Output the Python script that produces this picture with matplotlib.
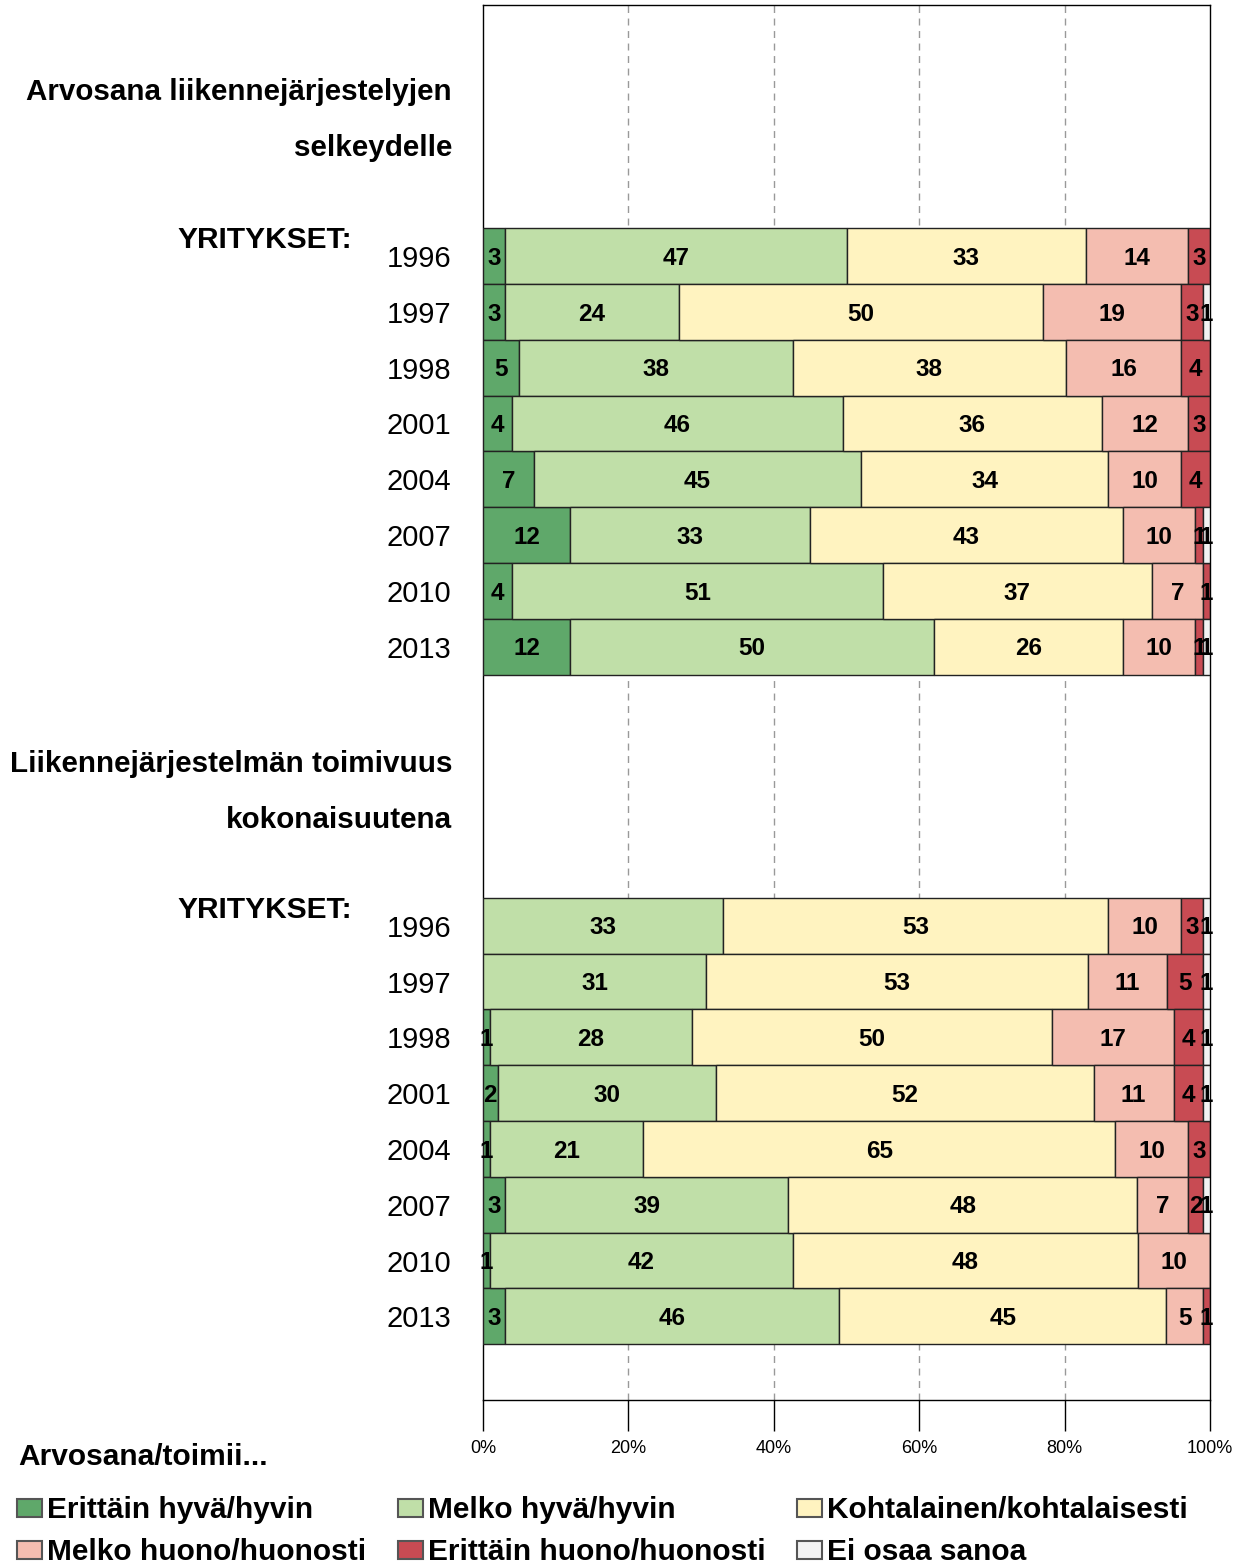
import matplotlib
matplotlib.use("Agg")
import matplotlib.pyplot as plt
from matplotlib.patches import Rectangle
import numpy as np

plt.rcParams['font.family'] = ['Liberation Sans', 'DejaVu Sans']

years = ["1996", "1997", "1998", "2001", "2004", "2007", "2010", "2013"]
series_names = ["Erittäin hyvä/hyvin", "Melko hyvä/hyvin", "Kohtalainen/kohtalaisesti",
                "Melko huono/huonosti", "Erittäin huono/huonosti", "Ei osaa sanoa"]
colors = ["#5fa86a", "#c0dfa8", "#fff3c0", "#f4bdb0", "#c84b53", "#f2f2f2"]

title_top = ["Arvosana liikennejärjestelyjen", "selkeydelle"]
title_bottom = ["Liikennejärjestelmän toimivuus", "kokonaisuutena"]
group_label = "YRITYKSET:"
legend_title = "Arvosana/toimii..."

# Top group: Arvosana liikennejärjestelyjen selkeydelle
top_erittain_hyva = [3, 3, 5, 4, 7, 12, 4, 12]
top_melko_hyva = [47, 24, 38, 46, 45, 33, 51, 50]
top_kohtalainen = [33, 50, 38, 36, 34, 43, 37, 26]
top_melko_huono = [14, 19, 16, 12, 10, 10, 7, 10]
top_erittain_huono = [3, 3, 4, 3, 4, 1, 1, 1]
top_ei_osaa = [0, 1, 0, 0, 0, 1, 0, 1]

# Bottom group: Liikennejärjestelmän toimivuus kokonaisuutena
bot_erittain_hyva = [0, 0, 1, 2, 1, 3, 1, 3]
bot_melko_hyva = [33, 31, 28, 30, 21, 39, 42, 46]
bot_kohtalainen = [53, 53, 50, 52, 65, 48, 48, 45]
bot_melko_huono = [10, 11, 17, 11, 10, 7, 10, 5]
bot_erittain_huono = [3, 5, 4, 4, 3, 2, 0, 1]
bot_ei_osaa = [1, 1, 1, 1, 0, 1, 0, 0]

xticks = [0, 20, 40, 60, 80, 100]
xticklabels = ["0%", "20%", "40%", "60%", "80%", "100%"]

W, H = 1246, 1566
fig = plt.figure(figsize=(W / 100, H / 100), dpi=100)
ax = fig.add_axes([483 / W, 1 - 1400 / H, (1210 - 483) / W, (1400 - 5) / H])

top_data = np.array([top_erittain_hyva, top_melko_hyva, top_kohtalainen,
                     top_melko_huono, top_erittain_huono, top_ei_osaa], dtype=float)
bot_data = np.array([bot_erittain_hyva, bot_melko_hyva, bot_kohtalainen,
                     bot_melko_huono, bot_erittain_huono, bot_ei_osaa], dtype=float)

n_rows = 25
top_rows = np.arange(4, 12)
bot_rows = np.arange(16, 24)

for data, rows in ((top_data, top_rows), (bot_data, bot_rows)):
    pct = data / data.sum(axis=0) * 100
    left = np.zeros(data.shape[1])
    for k in range(data.shape[0]):
        ax.barh(rows, pct[k], left=left, height=1.0, color=colors[k],
                edgecolor="#222222", linewidth=1.0, zorder=3)
        for r, l, w, v in zip(rows, left, pct[k], data[k]):
            if v > 0:
                ax.text(l + w / 2, r + 0.04, f"{int(v)}", ha="center", va="center",
                        fontsize=17.5, fontweight="bold", color="black", zorder=4)
        left = left + pct[k]

ax.set_xlim(0, 100)
ax.set_ylim(n_rows - 0.5, -0.5)
ax.set_xticks(xticks)
ax.set_xticklabels(xticklabels, fontsize=13)
ax.tick_params(axis="x", direction="out", length=22, width=1, pad=7, color="black")
ax.set_yticks(np.concatenate([top_rows, bot_rows]))
ax.set_yticklabels(years + years, fontsize=21)
ax.tick_params(axis="y", length=0, pad=23)
for x in xticks[1:-1]:
    ax.axvline(x, color="#999999", linestyle=(0, (5, 4)), linewidth=1, zorder=1)
for s in ax.spines.values():
    s.set_color("black")
    s.set_linewidth(1)

def fig_x(px):
    return px / W

def fig_y(px):
    return 1 - px / H

for i, t in enumerate(title_top):
    fig.text(fig_x(452), fig_y(5 + 56 * (1 + i) + 31), t, ha="right", va="center",
             fontsize=21.3, fontweight="bold")
for i, t in enumerate(title_bottom):
    fig.text(fig_x(452), fig_y(5 + 56 * (13 + i) + 31), t, ha="right", va="center",
             fontsize=21.3, fontweight="bold")
fig.text(fig_x(352), fig_y(240), group_label, ha="right", va="center", fontsize=21.5, fontweight="bold")
fig.text(fig_x(352), fig_y(910), group_label, ha="right", va="center", fontsize=21.5, fontweight="bold")

# Legend
fig.text(fig_x(18), fig_y(1457), legend_title, ha="left", va="center", fontsize=21.5, fontweight="bold")
col_x = [17, 398, 797]
row_y = [1508, 1550]
for k, name in enumerate(series_names):
    cx = col_x[k % 3]
    cy = row_y[k // 3]
    fig.patches.append(Rectangle((cx / W, fig_y(cy + 9)), 25 / W, 18 / H,
                                 transform=fig.transFigure, facecolor=colors[k],
                                 edgecolor="#555555", linewidth=1.5))
    fig.text(fig_x(cx + 30), fig_y(cy + 2), name, ha="left", va="center",
             fontsize=21.5, fontweight="bold")

fig.savefig("out.png", dpi=100)
